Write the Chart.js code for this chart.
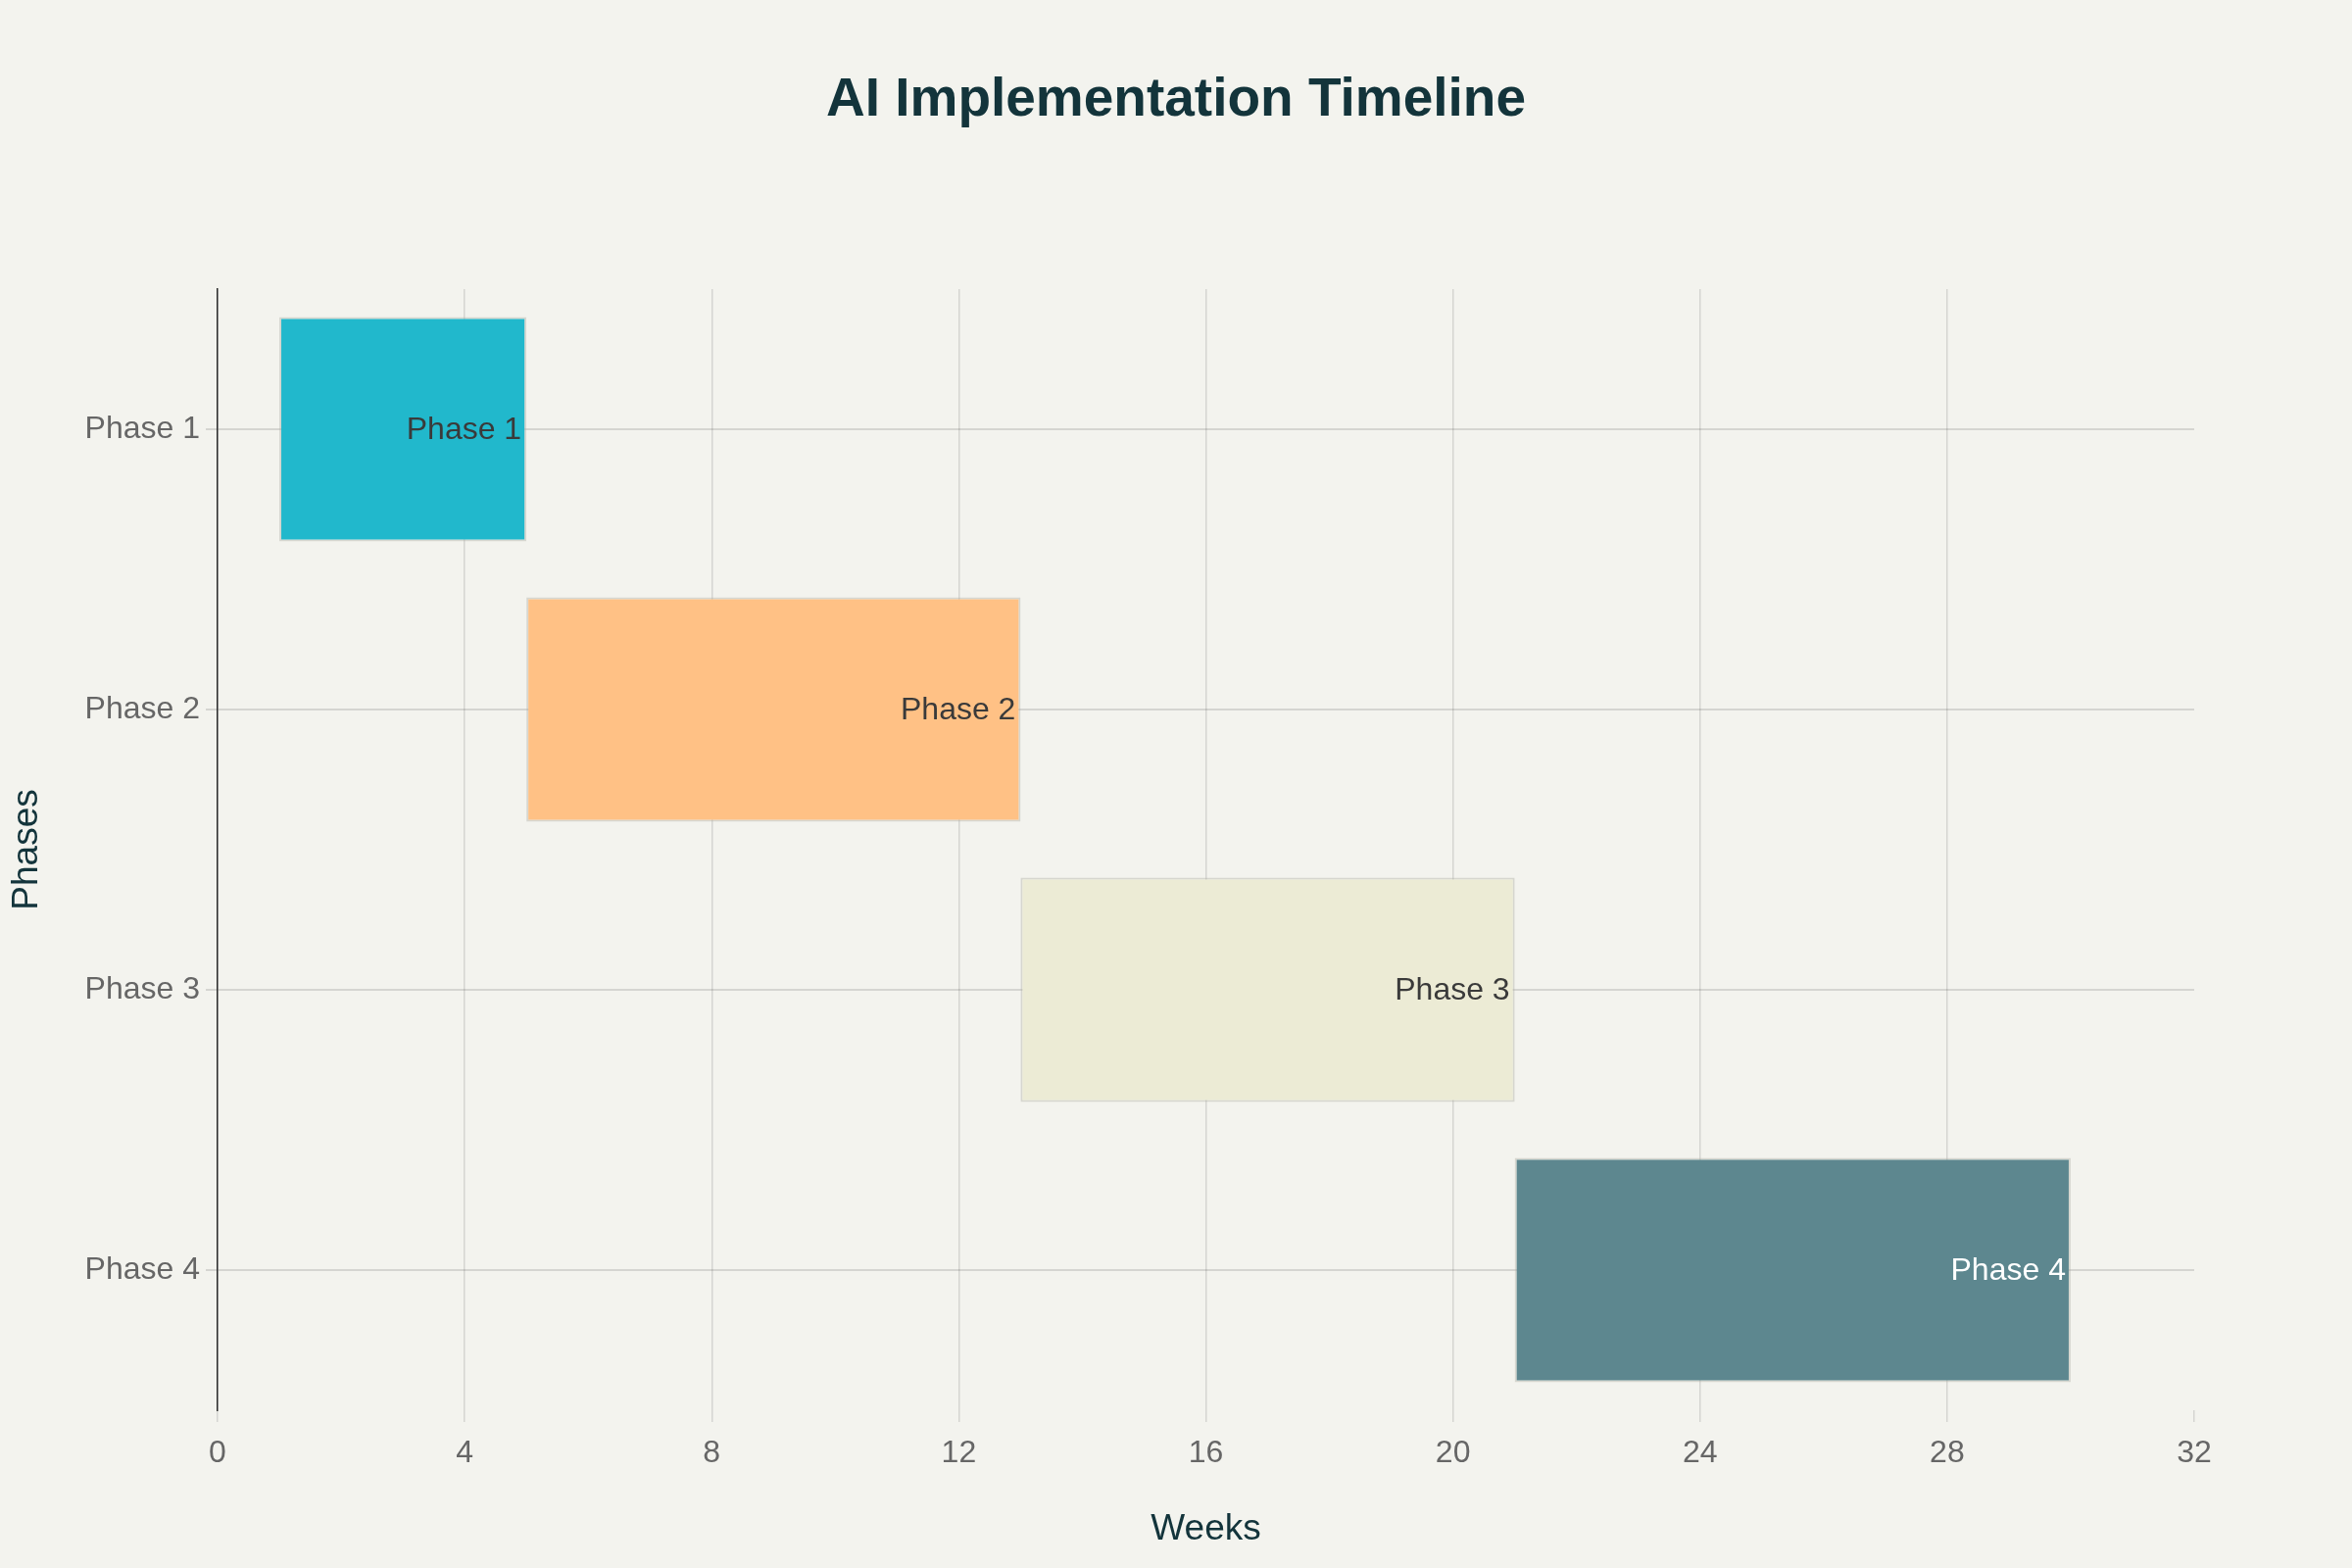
<!DOCTYPE html>
<html>
<head>
<meta charset="utf-8">
<script src="https://cdn.jsdelivr.net/npm/chart.js@4.4.1/dist/chart.umd.min.js"></script>
<style>
  html, body { margin: 0; padding: 0; background: #F3F3EE; }
  #wrap { width: 2400px; height: 1600px; }
</style>
</head>
<body>
<div id="wrap"><canvas id="c" width="2400" height="1600"></canvas></div>
<script>
const categories = ["Phase 1", "Phase 2", "Phase 3", "Phase 4"];
const startWeeks = [1, 5, 13, 21];
const endWeeks = [5, 13, 21, 30];
const barColors = ["#21B8CC", "#FFC185", "#ECEBD5", "#5D878F"];
const labelColors = ["#3A3A3A", "#3A3A3A", "#3A3A3A", "#FFFFFF"];
const xTickMin = 0, xTickMax = 32, xTickStep = 4;

const FONT = "'Liberation Sans', Arial, Helvetica, sans-serif";
const gridColor = "rgba(0,0,0,0.12)";

const bgPlugin = {
  id: 'bg',
  beforeDraw(chart) {
    const ctx = chart.ctx;
    ctx.save();
    ctx.fillStyle = '#F3F3EE';
    ctx.fillRect(0, 0, chart.width, chart.height);
    ctx.restore();
  }
};

const barLabels = {
  id: 'barLabels',
  afterDatasetsDraw(chart) {
    const ctx = chart.ctx;
    const meta = chart.getDatasetMeta(0);
    ctx.save();
    ctx.font = "32px " + FONT;
    ctx.textAlign = 'right';
    ctx.textBaseline = 'middle';
    meta.data.forEach((bar, i) => {
      const p = bar.getProps(['x', 'y', 'base'], true);
      const endX = Math.max(p.x, p.base);
      ctx.fillStyle = labelColors[i];
      ctx.fillText(categories[i], endX - 5, p.y + 1);
    });
    ctx.restore();
  }
};

new Chart(document.getElementById('c'), {
  type: 'bar',
  data: {
    labels: categories,
    datasets: [{
      data: categories.map((_, i) => [startWeeks[i], endWeeks[i]]),
      backgroundColor: barColors,
      borderColor: 'rgba(170,170,160,0.4)',
      borderWidth: 2,
      borderSkipped: false,
      barPercentage: 0.8,
      categoryPercentage: 1.0
    }]
  },
  options: {
    indexAxis: 'y',
    responsive: false,
    animation: false,
    devicePixelRatio: 1,
    layout: { padding: { left: 0, right: 0, top: 0, bottom: 0 } },
    plugins: {
      legend: { display: false },
      tooltip: { enabled: false },
      title: {
        display: true,
        text: 'AI Implementation Timeline',
        color: '#13343B',
        font: { family: FONT, size: 55, weight: 'bold' },
        padding: { top: 70, bottom: 159 }
      }
    },
    scales: {
      x: {
        type: 'linear',
        min: xTickMin,
        max: xTickMax,
        afterFit(scale) { scale.height = 161; },
        ticks: {
          stepSize: xTickStep,
          color: '#666666',
          font: { family: FONT, size: 32 },
          padding: 13
        },
        grid: {
          color: (c) => (c.tick && c.tick.value === xTickMax) ? 'rgba(0,0,0,0)' : gridColor,
          tickColor: gridColor,
          lineWidth: 1.5,
          tickLength: 12,
          drawTicks: true
        },
        border: { display: false },
        title: {
          display: true,
          text: 'Weeks',
          color: '#13343B',
          font: { family: FONT, size: 37 },
          padding: { top: 0, bottom: 17 }
        }
      },
      y: {
        type: 'category',
        afterFit(scale) { scale.width = 222; },
        ticks: {
          color: '#666666',
          font: { family: FONT, size: 32 },
          padding: 6
        },
        grid: {
          color: gridColor,
          tickColor: gridColor,
          lineWidth: 2,
          offset: false,
          tickLength: 12
        },
        border: { display: true, color: '#2A2A2A', width: 1.5 },
        title: {
          display: true,
          text: 'Phases',
          color: '#13343B',
          font: { family: FONT, size: 37 },
          padding: { top: 6, bottom: 0 }
        }
      },
      yRightSpace: {
        type: 'category',
        position: 'right',
        afterFit(scale) { scale.width = 161; },
        ticks: { display: false },
        grid: { display: false, drawTicks: false },
        border: { display: false }
      }
    }
  },
  plugins: [bgPlugin, barLabels]
});
</script>
</body>
</html>
